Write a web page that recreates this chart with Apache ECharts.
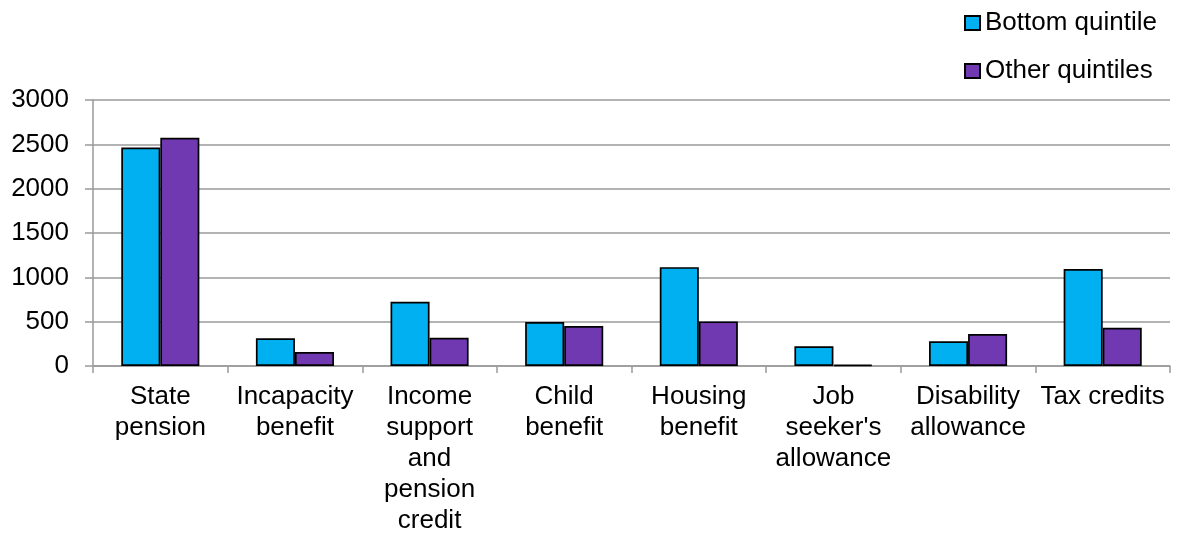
<!DOCTYPE html>
<html>
<head>
<meta charset="utf-8">
<script src="https://cdn.jsdelivr.net/npm/echarts@6/dist/echarts.min.js"></script>
<style>
  html, body { margin: 0; padding: 0; background: #ffffff; }
  #chart { width: 1178px; height: 533px; }
</style>
</head>
<body>
<div id="chart"></div>
<script>
// Benefit categories (line breaks give the wrapped axis labels)
const categories = [
  'State\npension',
  'Incapacity\nbenefit',
  'Income\nsupport\nand\npension\ncredit',
  'Child\nbenefit',
  'Housing\nbenefit',
  'Job\nseeker\'s\nallowance',
  'Disability\nallowance',
  'Tax credits'
];
const seriesNames = ['Bottom quintile', 'Other quintiles'];
const bottomQuintile = [2465, 312, 724, 496, 1115, 222, 278, 1093];
const otherQuintiles = [2575, 158, 319, 451, 503, 15, 360, 432];
const yTicks = [0, 500, 1000, 1500, 2000, 2500, 3000];

const FONT = '"Liberation Sans", Arial, sans-serif';
const GRID_GREY = '#9a9a9a';
const colors = ['#00B0F0', '#7039B1'];

const chart = echarts.init(document.getElementById('chart'), null, { renderer: 'canvas' });

const barStyle = (c) => ({ color: c, borderColor: '#000000', borderWidth: 1.7 });

chart.setOption({
  animation: false,
  backgroundColor: '#ffffff',
  textStyle: { fontFamily: FONT },
  legend: {
    orient: 'vertical',
    left: 964,
    top: 10,
    padding: 0,
    itemWidth: 15,
    itemHeight: 14,
    itemGap: 22,
    icon: 'rect',
    textStyle: { fontFamily: FONT, fontSize: 26, color: '#000000', lineHeight: 26 },
    data: seriesNames
  },
  grid: { left: 93, right: 8, top: 100, bottom: 167, outerBoundsMode: 'none', containLabel: false },
  xAxis: {
    type: 'category',
    data: categories,
    axisLine: { show: true, lineStyle: { color: GRID_GREY, width: 1.5 } },
    axisTick: { show: true, length: 7, lineStyle: { color: GRID_GREY, width: 1.5 } },
    axisLabel: {
      interval: 0,
      margin: 15,
      fontFamily: FONT,
      fontSize: 26,
      lineHeight: 31,
      color: '#000000',
      align: 'center'
    }
  },
  yAxis: {
    type: 'value',
    min: yTicks[0],
    max: yTicks[yTicks.length - 1],
    interval: yTicks[1] - yTicks[0],
    axisLine: { show: true, lineStyle: { color: GRID_GREY, width: 1.5 } },
    axisTick: { show: true, length: 8, lineStyle: { color: GRID_GREY, width: 1.5 } },
    splitLine: { show: true, lineStyle: { color: GRID_GREY, width: 1.5 } },
    axisLabel: {
      margin: 24,
      fontFamily: FONT,
      fontSize: 26,
      color: '#000000',
      formatter: (v) => String(v)
    }
  },
  series: [
    {
      name: seriesNames[0],
      type: 'bar',
      data: bottomQuintile,
      barGap: '0%',
      barCategoryGap: '42%',
      itemStyle: barStyle(colors[0])
    },
    {
      name: seriesNames[1],
      type: 'bar',
      data: otherQuintiles,
      barGap: '0%',
      barCategoryGap: '42%',
      itemStyle: barStyle(colors[1])
    }
  ]
});
</script>
</body>
</html>
